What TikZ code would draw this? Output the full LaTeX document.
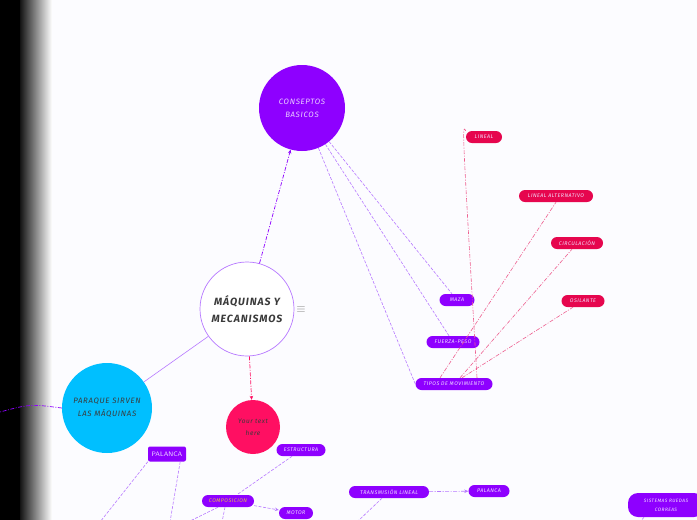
\documentclass[tikz,border=0pt]{standalone}
\usepackage{fontspec}
\setmainfont{Fira Sans}
\newfontfamily\mmfont[LetterSpace=9]{Fira Sans}
\usetikzlibrary{arrows.meta}
\definecolor{mmviolet}{HTML}{8E00FF}
\definecolor{mmlilac}{HTML}{B779FF}
\definecolor{mmcrimson}{HTML}{E6064E}
\definecolor{mmpink}{HTML}{FF0F62}
\definecolor{mmrose}{HTML}{EE6090}
\definecolor{mmcyan}{HTML}{00BFFF}
\definecolor{mmgold}{HTML}{E8C040}
\definecolor{mmtext}{HTML}{3A3A3A}

\begin{document}
\begin{tikzpicture}[x=1pt,y=-1pt,>={Stealth[length=4pt,width=3.5pt]}]
                \tikzstyle{every node}=[inner sep=0pt,align=center]
                \tikzstyle{pill}=[fill=mmviolet,rounded corners=6pt,minimum height=12pt,text=white!88!mmviolet,font=\mmfont\fontsize{5.3}{6}\selectfont\itshape]
                \tikzstyle{redpill}=[pill,fill=mmcrimson]
                \tikzstyle{bubble}=[circle,font=\mmfont\fontsize{7.8}{13}\selectfont\itshape,text=mmtext]
                \tikzstyle{thin}=[draw=mmlilac,line width=0.6pt,dash pattern=on 3pt off 1.5pt]
                \tikzstyle{rose}=[draw=mmrose,line width=0.6pt,dash pattern=on 4pt off 1.5pt on 1pt off 1.5pt]
                \useasboundingbox (0,0) rectangle (697,520);
                \fill[white!99!blue] (0,0) rectangle (697,520);
                \fill[black] (0,0) rectangle (20,520);
                \shade[left color=black!92,right color=white] (20,0) rectangle (52,520);
                % circles
                \node[bubble,fill=mmviolet,minimum size=86pt,text=white!82!mmviolet] (conceptos) at (302,108) {CONSEPTOS\\BASICOS};
                \node[bubble,draw=mmlilac,fill=white,line width=0.7pt,minimum size=94pt,font=\mmfont\fontsize{10.5}{17}\selectfont\bfseries\itshape] (maquinas) at (247,309) {MÁQUINAS Y\\MECANISMOS};
                \node[text=gray,font=\large] (menu) at (301,310) {$\equiv$};
                \node[bubble,fill=mmcyan,minimum size=90pt] (paraque) at (107,408) {PARAQUE SIRVEN\\LAS MÁQUINAS};
                \node[bubble,fill=mmpink,minimum size=54pt,font=\mmfont\fontsize{6.5}{12}\selectfont\itshape] (yourtext) at (253,427) {Your text\\here};
                % pills
                \node[redpill,minimum width=36pt] (lineal) at (484,137) {LINEAL};
                \node[redpill,minimum width=74pt] (alternativo) at (556,196) {LINEAL ALTERNATIVO};
                \node[redpill,minimum width=52pt] (circulacion) at (577,243) {CIRCULACIÓN};
                \node[redpill,minimum width=43pt] (osilante) at (583,301) {OSILANTE};
                \node[pill,minimum width=35pt] (maza) at (457,300) {MAZA};
                \node[pill,minimum width=53pt] (fuerza) at (453,342) {FUERZA-PESO};
                \node[pill,minimum width=77pt] (tipos) at (454,384) {TIPOS DE MOVIMIENTO};
                \node[pill,rounded corners=2pt,minimum width=38pt,minimum height=15pt,font=\fontsize{6.5}{8}\selectfont\sffamily] (palanca) at (167,454) {PALANCA};
                \node[pill,minimum width=49pt] (estructura) at (301,450) {ESTRUCTURA};
                \node[pill,minimum width=52pt,text=mmgold] (composicion) at (228,501) {COMPOSICION};
                \node[pill,minimum width=34pt] (motor) at (296,513) {MOTOR};
                \node[pill,minimum width=80pt] (transmision) at (389,492) {TRANSMISIÓN LINEAL};
                \node[pill,minimum width=41pt] (palancab) at (489,491) {PALANCA};
                \node[pill,rounded corners=10pt,minimum width=76pt,minimum height=24pt,font=\mmfont\fontsize{4.8}{9}\selectfont\itshape] (sistemas) at (666,505) {SISTEMAS RUEDAS\\CORREAS};
                % free ends
                \coordinate (offleft) at (0,412);
                \coordinate (offa) at (100,522);
                \coordinate (offb) at (170,522);
                \coordinate (offc) at (188,522);
                \coordinate (offd) at (222,522);
                \coordinate (offe) at (357,522);
                \coordinate (offf) at (640,522);
                % connectors
                \draw[->,mmviolet,line width=0.7pt,dash pattern=on 4pt off 1.5pt on 1pt off 1.5pt] (maquinas) -- (conceptos);
                \draw[->,mmpink,line width=0.7pt,dash pattern=on 4pt off 1.5pt on 1pt off 1.5pt] (maquinas) -- (yourtext);
                \draw[mmlilac,line width=0.6pt] (maquinas) -- (paraque);
                \draw[mmviolet,line width=0.7pt,dash pattern=on 4pt off 1.5pt on 1pt off 1.5pt] (paraque.west) .. controls (30,404) .. (offleft);
                \draw[thin] (conceptos) -- (maza);
                \draw[thin] (conceptos) -- (fuerza);
                \draw[thin] (conceptos) -- (tipos.west);
                \draw[rose] ([xshift=23pt]tipos.north) .. controls (462,124) .. (lineal.north west);
                \draw[rose] ([xshift=-14pt]tipos.north) -- (alternativo.south);
                \draw[rose] ([xshift=6pt]tipos.north) -- ([xshift=-5pt]circulacion.south);
                \draw[rose] ([xshift=8pt]tipos.north) -- ([xshift=-10pt]osilante.south);
                \draw[thin] (palanca.south west) -- (offa);
                \draw[thin] ([xshift=-6pt]palanca.south east) -- (offb);
                \draw[thin] (estructura) -- (composicion);
                \draw[->,thin] (composicion) -- (motor);
                \draw[thin] ([xshift=-10pt]composicion.south) -- (offc);
                \draw[thin] ([xshift=-3pt]composicion.south) -- (offd);
                \draw[->,mmlilac,line width=0.6pt,dash pattern=on 4pt off 1.5pt on 1pt off 1.5pt] (transmision) -- (palancab);
                \draw[thin] ([xshift=-7pt]transmision.south) -- (offe);
                \draw[thin] ([xshift=-22pt]sistemas.south) -- (offf);
            \end{tikzpicture}
\end{document}
